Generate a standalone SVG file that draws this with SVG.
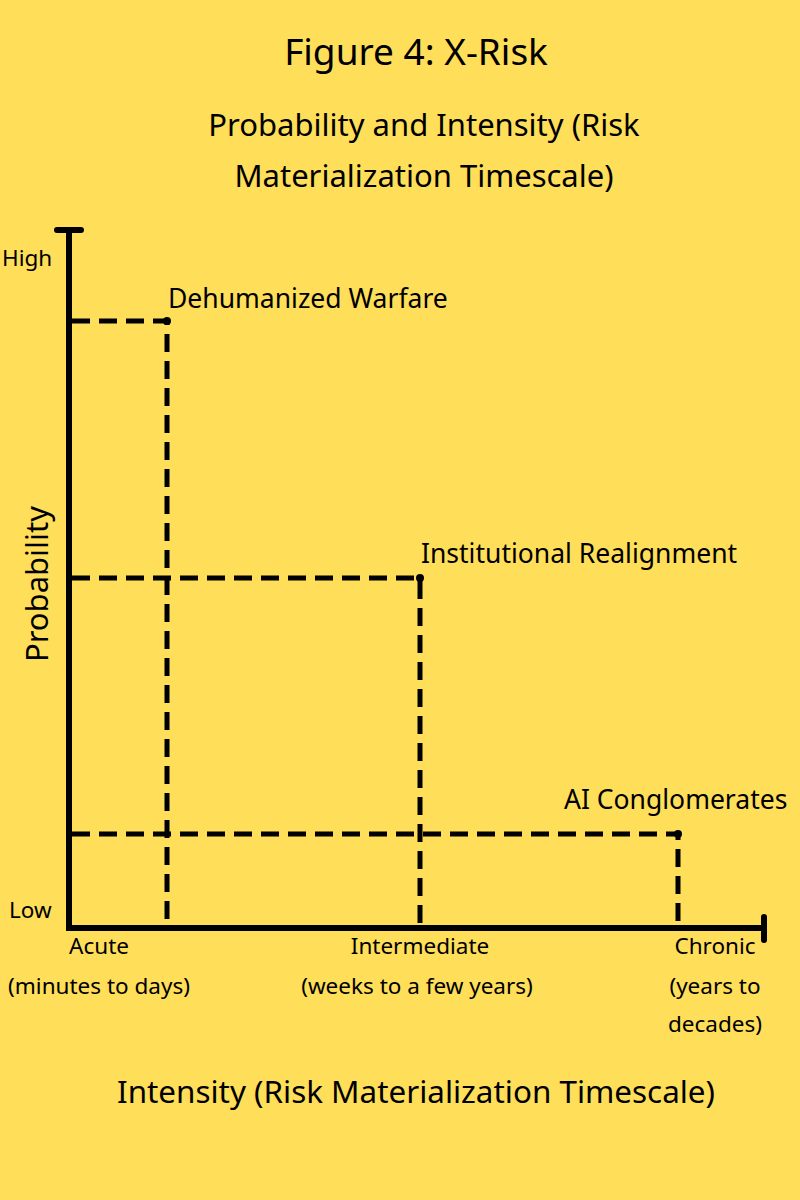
<svg xmlns="http://www.w3.org/2000/svg" width="800" height="1200" viewBox="0 0 800 1200">
<style>
text{font-family:"Noto Sans","Open Sans",sans-serif;fill:#000}
.axis{stroke:#000;stroke-width:6;fill:none;stroke-linecap:round}
.dash{stroke:#000;stroke-width:5;fill:none;stroke-dasharray:18 9}
.t{font-size:26.5px}
.s{font-size:22.5px}
</style>
<rect width="800" height="1200" fill="#FFDE59"/>
<text x="416" y="65" text-anchor="middle" font-size="37">Figure 4: X-Risk</text>
<text x="424" y="136" text-anchor="middle" font-size="31">Probability and Intensity (Risk</text>
<text x="424" y="187" text-anchor="middle" font-size="31">Materialization Timescale)</text>
<g id="axes">
<path class="axis" d="M69 230V928H764M57 230H81M764 917V940"/>
</g>
<g id="connectors">
<path class="dash" d="M72 321H167V926"/>
<path class="dash" d="M72 578H420V926"/>
<path class="dash" d="M72 834H678V926"/>
<circle cx="167" cy="321" r="4"/>
<circle cx="420" cy="578" r="4"/>
<circle cx="678" cy="834" r="4"/>
</g>
<g id="dehumanized"><text class="t" x="168" y="308">Dehumanized Warfare</text></g>
<g id="institutional"><text class="t" x="421" y="563">Institutional Realignment</text></g>
<g id="ai"><text class="t" x="564" y="809">AI Conglomerates</text></g>
<text class="s" x="2" y="266">High</text>
<text class="s" x="9" y="918">Low</text>
<text font-size="31" transform="translate(48 584) rotate(-90)" text-anchor="middle">Probability</text>
<text class="s" x="99" y="954" text-anchor="middle">Acute</text>
<text class="s" x="99" y="994" text-anchor="middle">(minutes to days)</text>
<text class="s" x="420" y="954" text-anchor="middle">Intermediate</text>
<text class="s" x="417" y="994" text-anchor="middle">(weeks to a few years)</text>
<text class="s" x="715" y="954" text-anchor="middle">Chronic</text>
<text class="s" x="715" y="994" text-anchor="middle">(years to</text>
<text class="s" x="715" y="1032" text-anchor="middle">decades)</text>
<text x="416" y="1103" text-anchor="middle" font-size="31.4">Intensity (Risk Materialization Timescale)</text>
</svg>
